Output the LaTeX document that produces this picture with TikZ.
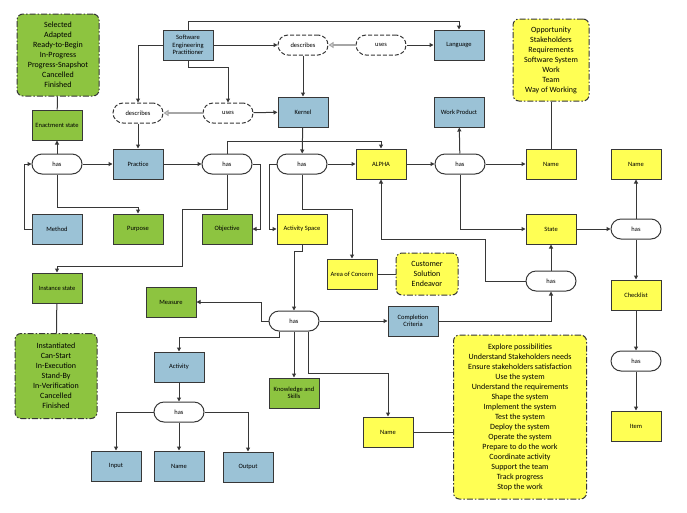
\documentclass[tikz,border=0pt]{standalone}
\usepackage{fontspec}
\setmainfont{Carlito}
\usetikzlibrary{arrows.meta}
\definecolor{cblue}{RGB}{155,194,214}
\definecolor{cgreen}{RGB}{141,196,64}
\definecolor{cyellow}{RGB}{255,255,84}
\definecolor{cline}{RGB}{55,55,55}
\begin{document}
\begin{tikzpicture}[x=1pt,y=-1pt,line width=1pt,draw=cline,
  >={Triangle[length=4pt,width=4pt]},
  box/.style={draw=cline,minimum width=50pt,minimum height=30pt,inner sep=1pt,align=center,font=\fontsize{6.5}{7.5}\selectfont},
  rel/.style={draw=cline,fill=white,rounded corners=10pt,minimum width=50pt,minimum height=20pt,inner sep=1pt,font=\fontsize{6.5}{7.5}\selectfont},
  verb/.style={rel,dash pattern=on 4pt off 2pt},
  list/.style={draw=cline,line width=1pt,rounded corners=6pt,dash pattern=on 6pt off 2pt on 1.5pt off 2pt,align=center,inner sep=2pt,font=\fontsize{8}{10}\selectfont},
  grey/.style={draw=black!35,line width=1.2pt,-{Triangle[open,length=5pt,width=6pt]}}]
\useasboundingbox (0,0) rectangle (687,512);
\node[list,fill=cgreen,minimum width=82pt,minimum height=82pt] (enstates) at (58,55) {Selected\\Adapted\\Ready-to-Begin\\In-Progress\\Progress-Snapshot\\Cancelled\\Finished};
\node[box,fill=cgreen] (enact) at (57,125) {Enactment state};
\node[box,fill=cblue] (sep) at (188,45) {Software\\Engineering\\Practitioner};
\node[verb] (desc1) at (138,113) {describes};
\node[verb] (uses1) at (228,113) {uses};
\node[verb] (desc2) at (303,45) {describes};
\node[verb] (uses2) at (381,45) {uses};
\node[box,fill=cblue] (lang) at (459,45) {Language};
\node[box,fill=cblue] (kernel) at (303,112) {Kernel};
\node[box,fill=cblue] (wp) at (459,112) {Work Product};
\node[list,fill=cyellow,minimum width=76pt,minimum height=82pt] (alphas) at (551,60) {Opportunity\\Stakeholders\\Requirements\\Software System\\Work\\Team\\Way of Working};
\node[rel] (has1) at (57,164) {has};
\node[box,fill=cblue] (practice) at (138,164) {Practice};
\node[rel] (has2) at (227,164) {has};
\node[rel] (has3) at (302,164) {has};
\node[box,fill=cyellow] (alpha) at (381,164) {ALPHA};
\node[rel] (has4) at (460,164) {has};
\node[box,fill=cyellow] (aname) at (551,164) {Name};
\node[box,fill=cyellow] (sname) at (636,164) {Name};
\node[box,fill=cblue] (method) at (57,229) {Method};
\node[box,fill=cgreen] (purpose) at (138,229) {Purpose};
\node[box,fill=cgreen] (objective) at (227,229) {Objective};
\node[box,fill=cyellow] (aspace) at (302,229) {Activity Space};
\node[box,fill=cyellow] (state) at (551,229) {State};
\node[rel] (has5) at (636,229) {has};
\node[box,fill=cyellow] (concern) at (352,274) {Area of Concern};
\node[list,fill=cyellow,minimum width=62pt,minimum height=42pt] (areas) at (427,274) {Customer\\Solution\\Endeavor};
\node[rel] (has7) at (551,281) {has};
\node[box,fill=cgreen] (instate) at (57,288) {Instance state};
\node[box,fill=cyellow] (checklist) at (636,295) {Checklist};
\node[box,fill=cgreen] (measure) at (171,302) {Measure};
\node[rel] (has8) at (294,321) {has};
\node[box,fill=cblue] (criteria) at (413,321) {Completion\\Criteria};
\node[list,fill=cgreen,minimum width=82pt,minimum height=85pt] (instates) at (56,376) {Instantiated\\Can-Start\\In-Execution\\Stand-By\\In-Verification\\Cancelled\\Finished};
\node[box,fill=cblue] (activity) at (179,367) {Activity};
\node[box,fill=cgreen] (skills) at (294,393) {Knowledge and\\Skills};
\node[rel] (has9) at (179,412) {has};
\node[rel] (has6) at (636,361) {has};
\node[list,fill=cyellow,minimum width=133pt,minimum height=164pt] (actspaces) at (520,417) {Explore possibilities\\Understand Stakeholders needs\\Ensure stakeholders satisfaction\\Use the system\\Understand the requirements\\Shape the system\\Implement the system\\Test the system\\Deploy the system\\Operate the system\\Prepare to do the work\\Coordinate activity\\Support the team\\Track progress\\Stop the work};
\node[box,fill=cyellow] (item) at (636,426) {Item};
\node[box,fill=cyellow] (asname) at (388,432) {Name};
\node[box,fill=cblue] (input) at (116,466) {Input};
\node[box,fill=cblue] (actname) at (179,466) {Name};
\node[box,fill=cblue] (output) at (248,467) {Output};
\foreach \a/\b in {sep/desc2,uses2/lang,uses1/kernel,desc2/kernel,desc1/practice,kernel/has3,
  has1/enact,has1/practice,practice/has2,has3/alpha,alpha/has4,has4/aname,has4/wp,
  has8/criteria,has8/skills,has7/state,state/has5,has5/sname,has5/checklist,checklist/has6,
  has6/item,activity/has9,has9/actname}
  \draw[->] (\a) -- (\b);
\foreach \a/\b in {enact/enstates,alphas/aname,concern/areas,instate/instates}
  \draw (\a) -- (\b);
\draw (asname.east) -- (asname.east -| actspaces.west);
\draw[grey] (uses1) -- (desc1);
\draw[grey] (uses2) -- (desc2);
\draw[->] (sep.north) -- ++(0,-8) -| (lang.north);
\draw[->] (sep.west) -| (desc1.north);
\draw[->] (sep.south) -- ++(0,7) -| (uses1.north);
\draw[->] (has2.north) -- ++(0,-12) -| (alpha.north);
\draw[->] (method.west) -- ++(-7,0) |- (has1.west);
\draw[->] (has1.south) -- ++(0,33) -| (purpose.north);
\draw[->] (has2.east) -- ++(8,0) |- (objective.east);
\draw[->] (has2.south) |- (182,209) -- (182,266) -| (instate.north);
\draw[->] (has3.west) -- ++(-7,0) |- (aspace.west);
\draw[->] (has3.south) -- ++(0,35) -| (concern.north);
\draw[->] (aspace.south) -- ++(0,7) -| (has8.north);
\draw[->] (has8.west) -- ++(-7,0) |- (measure.east);
\draw[->] ([xshift=-15pt]has8.south) -- ++(0,6) -| (activity.north);
\draw[->] ([xshift=14pt]has8.south) -- ++(0,42) -| (asname.north);
\draw[->] (criteria.east) -| (has7.south);
\draw[->] (has7.west) -- ++(-40,0) -- ++(0,-42) -| (alpha.south);
\draw[->] (has4.south) |- (state.west);
\draw[->] (has9.west) -| (input.north);
\draw[->] (has9.east) -| (output.north);
\end{tikzpicture}
\end{document}
